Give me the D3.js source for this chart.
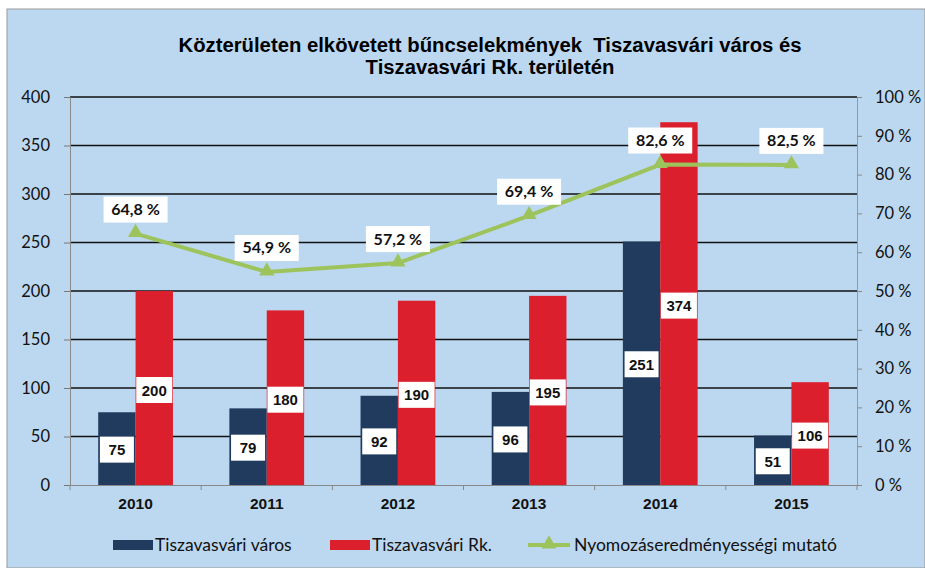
<!DOCTYPE html>
<html><head><meta charset="utf-8">
<script src="https://cdn.jsdelivr.net/npm/d3@7"></script>
<style>body{margin:0;background:#fff}svg{display:block}</style>
</head><body><svg id="c" width="925" height="568"></svg>
<script>
const years = ["2010","2011","2012","2013","2014","2015"];
const varos = [75,79,92,96,251,51];
const rk = [200,180,190,195,374,106];
const mutato = [64.8,54.9,57.2,69.4,82.6,82.5];
const leftTicks = [0,50,100,150,200,250,300,350,400];
const rightTicks = [0,10,20,30,40,50,60,70,80,90,100];
const seriesNames = ["Tiszavasvári város","Tiszavasvári Rk.","Nyomozáseredményességi mutató"];
const titleLines = ["Közterületen elkövetett bűncselekmények  Tiszavasvári város és","Tiszavasvári Rk. területén"];

const svg = d3.select("#c");
const L=70,R=857,T=97,B=485;
const cBlue="#213b5e", cRed="#dc1f2d", cGreen="#9dc35c", bg="#bcd8f0";
svg.append("rect").attr("x",7).attr("y",9).attr("width",918).attr("height",559).attr("fill",bg).attr("stroke","#999").attr("stroke-width",1);

const x = d3.scaleBand().domain(years).range([L,R]);
const y = d3.scaleLinear().domain([0,400]).range([B,T]);
const y2 = d3.scaleLinear().domain([0,100]).range([B,T]);
const bw = x.bandwidth()*0.285;

// title
svg.append("text").attr("x",490).attr("y",52).attr("text-anchor","middle").style("white-space","pre")
 .style("font-family","Liberation Sans, Arial").style("font-weight","bold").style("font-size","20.3px")
 .selectAll("tspan").data(titleLines).join("tspan").attr("x",490).attr("dy",(d,i)=>i?22:0).text(d=>d);

// gridlines
svg.append("g").selectAll("line").data(leftTicks.filter(d=>d>0)).join("line")
 .attr("x1",L).attr("x2",R).attr("y1",d=>y(d)).attr("y2",d=>y(d)).attr("stroke","#111").attr("stroke-width",1.6);

// left axis
const ga = svg.append("g").attr("transform",`translate(${L},0)`).call(d3.axisLeft(y).tickValues(leftTicks).tickSize(6).tickPadding(14));
ga.select(".domain").attr("stroke","#888");
ga.selectAll(".tick line").attr("stroke","#777");
ga.selectAll("text").style("font-family","Lato").style("font-size","16.5px").attr("fill","#111");

// right axis
const gr = svg.append("g").attr("transform",`translate(${R},0)`).call(d3.axisRight(y2).tickValues(rightTicks).tickSize(5).tickPadding(13).tickFormat(d=>d+" %"));
gr.select(".domain").attr("stroke","#999");
gr.selectAll(".tick line").attr("stroke","#888");
gr.selectAll("text").style("font-family","Lato").style("font-size","16.5px").attr("fill","#111");

// bottom axis
const gb = svg.append("g").attr("transform",`translate(0,${B})`).call(d3.axisBottom(x).tickSize(0).tickPadding(13));
gb.select(".domain").attr("stroke","#888");
gb.selectAll("text").style("font-family","Liberation Sans, Arial").style("font-weight","bold").style("font-size","15.5px").attr("fill","#111");
svg.append("g").selectAll("line").data(years.concat(["end"])).join("line")
 .attr("x1",(d,i)=>L+i*x.step()).attr("x2",(d,i)=>L+i*x.step()).attr("y1",B).attr("y2",B+5).attr("stroke","#888");

// bars
const gbar = svg.append("g");
gbar.selectAll(".b").data(varos).join("rect").attr("x",(d,i)=>x(years[i])+x.bandwidth()/2-bw).attr("width",bw)
 .attr("y",d=>y(d)).attr("height",d=>B-y(d)).attr("fill",cBlue);
gbar.selectAll(".r").data(rk).join("rect").attr("x",(d,i)=>x(years[i])+x.bandwidth()/2).attr("width",bw)
 .attr("y",d=>y(d)).attr("height",d=>B-y(d)).attr("fill",cRed);

function label(g,cx,cy,txt,w,font,fs){
  g.append("rect").attr("x",cx-w/2).attr("y",cy-13).attr("width",w).attr("height",26).attr("fill","#fff");
  g.append("text").attr("x",cx).attr("y",cy+5.5).attr("text-anchor","middle").style("font-family",font)
   .style("font-weight","bold").style("font-size",fs).attr("fill","#111").text(txt);
}
const gl = svg.append("g");
varos.forEach((d,i)=>label(gl,x(years[i])+x.bandwidth()/2-bw/2,(y(d)+B)/2+1,d,34,"Liberation Sans, Arial","15px"));
rk.forEach((d,i)=>label(gl,x(years[i])+x.bandwidth()/2+bw/2,(y(d)+B)/2+2,d,36,"Liberation Sans, Arial","15px"));

// line
const cx = i=>x(years[i])+x.bandwidth()/2;
svg.append("path").datum(mutato).attr("fill","none").attr("stroke",cGreen).attr("stroke-width",4)
 .attr("d",d3.line().x((d,i)=>cx(i)).y(d=>y2(d)));
const tri = d3.symbol().type(d3.symbolTriangle).size(100);
svg.append("g").selectAll("path").data(mutato).join("path").attr("d",tri)
 .attr("transform",(d,i)=>`translate(${cx(i)},${y2(d)-1})`).attr("fill",cGreen);
const gp = svg.append("g");
mutato.forEach((d,i)=>label(gp,cx(i),y2(d)-24,d.toFixed(1).replace(".",",")+" %",64,"Lato","16px"));

// legend
const lg = svg.append("g").style("font-family","Lato").style("font-size","17.5px");
lg.append("rect").attr("x",113).attr("y",540).attr("width",40).attr("height",10).attr("fill",cBlue);
lg.append("text").attr("x",155).attr("y",551).text(seriesNames[0]).attr("fill","#111");
lg.append("rect").attr("x",330).attr("y",540).attr("width",40).attr("height",10).attr("fill",cRed);
lg.append("text").attr("x",372).attr("y",551).text(seriesNames[1]).attr("fill","#111");
lg.append("line").attr("x1",528).attr("x2",570).attr("y1",545).attr("y2",545).attr("stroke",cGreen).attr("stroke-width",4);
lg.append("path").attr("d",tri).attr("transform","translate(549,544)").attr("fill",cGreen);
lg.append("text").attr("x",574).attr("y",551).text(seriesNames[2]).attr("fill","#111");
</script></body></html>
